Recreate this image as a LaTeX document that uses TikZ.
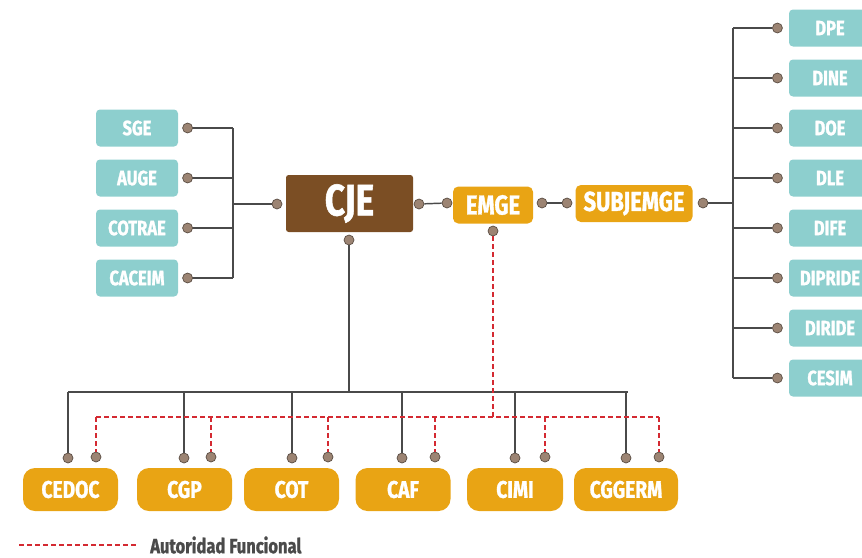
\documentclass[tikz,border=0pt]{standalone}
\usepackage{fontspec}
\setmainfont{Fira Sans}[FakeStretch=0.8, BoldFeatures={FakeBold=1.2}]
\usetikzlibrary{positioning}

\definecolor{unitteal}{HTML}{8DCFCE}
\definecolor{chiefbrown}{HTML}{7B4E24}
\definecolor{staffgold}{HTML}{E9A414}
\definecolor{dotgray}{HTML}{9C8473}
\definecolor{linegray}{HTML}{4A4A4A}
\definecolor{funcred}{HTML}{D42A32}

\begin{document}
\begin{tikzpicture}[x=0.75pt, y=-0.75pt,
  every node/.style = {inner sep=0pt, align=center},
  unit/.style = {rectangle, rounded corners=3pt, fill=unitteal, text=white,
    minimum width=61.5pt, minimum height=27.75pt,
    font=\bfseries\fontsize{15.5}{15.5}\selectfont},
  chief/.style = {rectangle, rounded corners=2pt, fill=chiefbrown, text=white,
    minimum width=95.25pt, minimum height=42.75pt,
    font=\bfseries\fontsize{33}{33}\selectfont},
  staff/.style = {rectangle, rounded corners=4pt, fill=staffgold, text=white,
    minimum height=27.75pt, font=\bfseries\fontsize{20.5}{20.5}\selectfont},
  command/.style = {rectangle, rounded corners=9pt, fill=staffgold, text=white,
    minimum height=32.25pt, font=\bfseries\fontsize{18}{18}\selectfont},
  dot/.style = {circle, fill=dotgray, draw=dotgray!55!black, line width=0.5pt,
    minimum size=7.5pt},
  link/.style = {draw=linegray, line width=1.1pt},
  func/.style = {draw=funcred, line width=1pt, dash pattern=on 3.5pt off 2.5pt}]

  \useasboundingbox (0,0) rectangle (862,557);

  % top line
  \node[chief] (CJE) at (349.5,203.5) {CJE};
  \node[staff, minimum width=60pt] (EMGE) at (493,205) {EMGE};
  \node[staff, minimum width=87.75pt] (SUBJEMGE) at (634,203.5) {SUBJEMGE};

  \node[dot] (dCJEw) at (277,204) {};
  \node[dot] (dCJEe) at (419,204) {};
  \node[dot] (dCJEs) at (349,240) {};
  \node[dot] (dEMGEw) at (447,203) {};
  \node[dot] (dEMGEe) at (542,203) {};
  \node[dot] (dEMGEs) at (493,231) {};
  \node[dot] (dSUBw) at (567,203) {};
  \node[dot] (dSUBe) at (703,203) {};

  \draw[link] (dCJEe) -- (dEMGEw);
  \draw[link] (dEMGEe) -- (dSUBw);

  % left column
  \coordinate (lbus) at (233,204);
  \foreach \name [count=\i] in {SGE,AUGE,COTRAE,CACEIM} {
    \node[unit] (\name) at (137,{128+50*(\i-1)}) {\name};
    \node[dot, right=3pt of \name] (d\name) {};
    \draw[link] (d\name) -- (d\name -| lbus);
  }
  \draw[link] (dSGE -| lbus) -- (dCACEIM -| lbus);
  \draw[link] (lbus) -- (dCJEw);

  % right column
  \coordinate (rbus) at (733,203);
  \foreach \name [count=\i] in {DPE,DINE,DOE,DLE,DIFE,DIPRIDE,DIRIDE,CESIM} {
    \node[unit] (\name) at (830,{28+50*(\i-1)}) {\name};
    \node[dot, left=4.5pt of \name] (d\name) {};
    \draw[link] (d\name -| rbus) -- (d\name);
  }
  \draw[link] (dDPE -| rbus) -- (dCESIM -| rbus);
  \draw[link] (dSUBe) -- (rbus);

  % bottom row
  \coordinate (bbus) at (349,392);
  \coordinate (fbus) at (493,417);
  \foreach \name/\x/\w/\k/\f in {CEDOC/70.5/71.25/68/96, CGP/184.5/71.25/184/211,
      COT/291.5/71.25/292/328, CAF/403/71.25/402/435, CIMI/515/72/515/545,
      CGGERM/626/78/626/659} {
    \node[command, minimum width=\w pt] (\name) at (\x,489.5) {\name};
    \node[dot] (k\name) at (\k,458) {};
    \node[dot] (f\name) at (\f,457) {};
    \draw[link] (k\name |- bbus) -- (k\name);
    \draw[func] (f\name |- fbus) -- (f\name);
  }
  \draw[link] (dCJEs) -- (bbus);
  \draw[link] (kCEDOC |- bbus) -- ([xshift=1.5pt]kCGGERM |- bbus);
  \draw[func] (fCEDOC |- fbus) -- (fCGGERM |- fbus);
  \draw[func] (dEMGEs) -- (fbus);

  % legend
  \coordinate (legA) at (19,545);
  \coordinate (legB) at (137,545);
  \draw[func] (legA) -- (legB);
  \node[anchor=west, text=linegray, font=\bfseries\fontsize{15.5}{15.5}\selectfont]
    (legend) at (150,545) {Autoridad Funcional};
\end{tikzpicture}
\end{document}
